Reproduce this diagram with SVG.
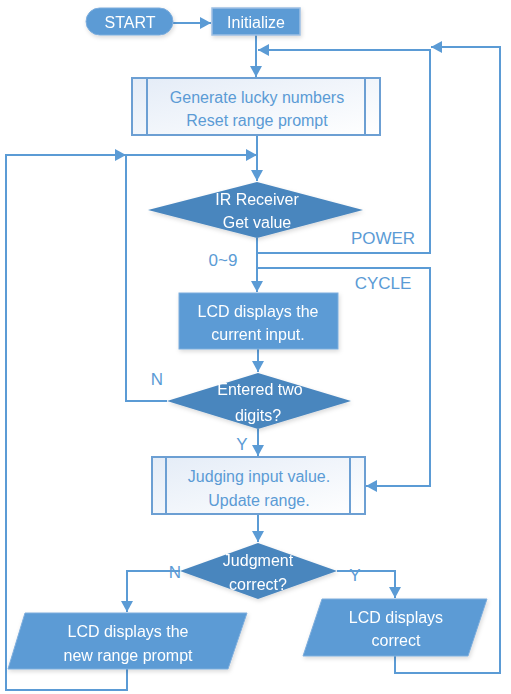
<svg xmlns="http://www.w3.org/2000/svg" width="511" height="694" viewBox="0 0 511 694">
<style>
.t{font-family:"Liberation Sans",Arial,sans-serif;font-size:16px;text-anchor:middle;dominant-baseline:central}
.w{fill:#ffffff}
.b{fill:#5B9BD5}
.fill{fill:#5B9BD5;stroke:#7FAEDD;stroke-width:1}
.dia{fill:#4A86BE}
.proc{fill:url(#g);stroke:#6C9FD3;stroke-width:2}
.c{fill:none;stroke:#5B9BD5;stroke-width:2}
.lbl{font-family:"Liberation Sans",Arial,sans-serif;font-size:17px;text-anchor:middle;dominant-baseline:central;fill:#5B9BD5}
</style>
<defs>
<marker id="a" markerUnits="userSpaceOnUse" markerWidth="12" markerHeight="12" refX="11" refY="6" orient="auto">
<path d="M0,0 L11,6 L0,12 z" fill="#5B9BD5"/>
</marker>
<linearGradient id="g" x1="0" y1="0" x2="1" y2="1">
<stop offset="0" stop-color="#E4ECF7"/>
<stop offset="1" stop-color="#FFFFFF"/>
</linearGradient>
<filter id="s" x="-10%" y="-10%" width="130%" height="140%">
<feDropShadow dx="1" dy="2" stdDeviation="2" flood-color="#000" flood-opacity="0.15"/>
</filter>
</defs>
<g id="connectors">
<path class="c" d="M173,23 H211" marker-end="url(#a)"/>
<path class="c" d="M256,35 V77" marker-end="url(#a)"/>
<path class="c" d="M257,135 V181" marker-end="url(#a)"/>
<path class="c" d="M127,669 V690 H6 V155 H126" marker-end="url(#a)"/>
<path class="c" d="M167,401 H126 V155 H257" marker-end="url(#a)"/>
<path class="c" d="M257,253 H430 V50 H258" marker-end="url(#a)"/>
<path class="c" d="M395,656 V673 H500 V47 H431" marker-end="url(#a)"/>
<path class="c" d="M257,238 V292" marker-end="url(#a)"/>
<path class="c" d="M257,268 H430 V486 H366" marker-end="url(#a)"/>
<path class="c" d="M258,349 V372" marker-end="url(#a)"/>
<path class="c" d="M258,429 V456" marker-end="url(#a)"/>
<path class="c" d="M258,514 V542" marker-end="url(#a)"/>
<path class="c" d="M180,571 H127 V612" marker-end="url(#a)"/>
<path class="c" d="M337,571 H395 V598" marker-end="url(#a)"/>
</g>
<g id="labels">
<text class="lbl" x="223" y="260">0~9</text>
<text class="lbl" x="383" y="238">POWER</text>
<text class="lbl" x="383" y="283">CYCLE</text>
<text class="lbl" x="157" y="379">N</text>
<text class="lbl" x="242" y="444">Y</text>
<text class="lbl" x="175" y="572">N</text>
<text class="lbl" x="355" y="575">Y</text>
</g>
<g id="start" filter="url(#s)">
<rect class="fill" x="86" y="8" width="87" height="27" rx="13.5"/>
<text class="t w" x="130" y="22">START</text>
</g>
<g id="initialize" filter="url(#s)">
<rect class="fill" x="212" y="8" width="88" height="27" style="stroke:#9DBFE3;stroke-width:1.5"/>
<text class="t w" x="256" y="22">Initialize</text>
</g>
<g id="generate">
<rect class="proc" x="132" y="78" width="248" height="57"/>
<line x1="147" y1="78" x2="147" y2="135" stroke="#6C9FD3" stroke-width="2"/>
<line x1="365" y1="78" x2="365" y2="135" stroke="#6C9FD3" stroke-width="2"/>
<text class="t b" x="257" y="97">Generate lucky numbers</text>
<text class="t b" x="257" y="120">Reset range prompt</text>
</g>
<g id="ir" filter="url(#s)">
<polygon class="dia" points="257,182 363,210 257,238 148,210"/>
<text class="t w" x="257" y="199">IR Receiver</text>
<text class="t w" x="257" y="222">Get value</text>
</g>
<g id="lcd-input" filter="url(#s)">
<rect class="fill" x="179" y="293" width="159" height="56"/>
<text class="t w" x="258" y="311">LCD displays the</text>
<text class="t w" x="258" y="334">current input.</text>
</g>
<g id="two-digits" filter="url(#s)">
<polygon class="dia" points="258,373 351,401 258,429 167,401"/>
<text class="t w" x="260" y="389">Entered two</text>
<text class="t w" x="258" y="415">digits?</text>
</g>
<g id="judging">
<rect class="proc" x="152" y="457" width="213" height="57"/>
<line x1="166" y1="457" x2="166" y2="514" stroke="#6C9FD3" stroke-width="2"/>
<line x1="350" y1="457" x2="350" y2="514" stroke="#6C9FD3" stroke-width="2"/>
<text class="t b" x="259" y="476">Judging input value.</text>
<text class="t b" x="259" y="500">Update range.</text>
</g>
<g id="judgment" filter="url(#s)">
<polygon class="dia" points="258,543 337,571 258,599 180,571"/>
<text class="t w" x="258" y="560">Judgment</text>
<text class="t w" x="258" y="584">correct?</text>
</g>
<g id="lcd-range" filter="url(#s)">
<polygon class="fill" points="25,613 247,613 228,669 8,669"/>
<text class="t w" x="128" y="631">LCD displays the</text>
<text class="t w" x="128" y="655">new range prompt</text>
</g>
<g id="lcd-correct" filter="url(#s)">
<polygon class="fill" points="322,599 487,599 468,656 303,656"/>
<text class="t w" x="396" y="617">LCD displays</text>
<text class="t w" x="396" y="640">correct</text>
</g>
</svg>
